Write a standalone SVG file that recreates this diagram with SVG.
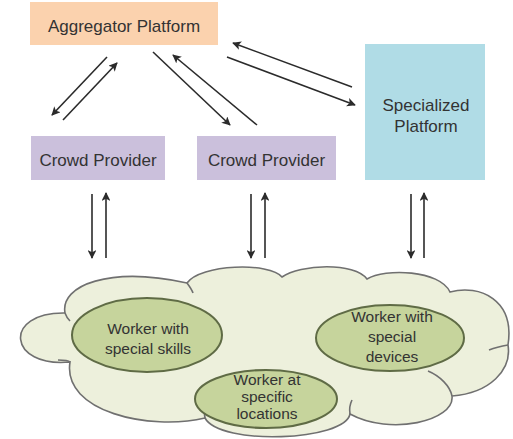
<svg xmlns="http://www.w3.org/2000/svg" width="513" height="439" viewBox="0 0 513 439">
<style>
.t{font-family:"Liberation Sans",Arial,sans-serif;fill:#333333;text-anchor:middle}
.b{font-size:17px}
.w{font-size:15.5px}
.c{stroke:#2b2b2b;stroke-width:1.6;fill:none;marker-end:url(#ah)}
.ell{fill:#c6d49c;stroke:#5f6b45;stroke-width:2}
.notch{fill:none;stroke:#707070;stroke-width:1.6}
</style>
<defs>
<marker id="ah" viewBox="0 0 10 10" refX="9" refY="5" markerWidth="5.5" markerHeight="5.5" orient="auto" markerUnits="strokeWidth">
<path d="M0,0 L10,5 L0,10 L2.5,5 Z" fill="#2b2b2b"/>
</marker>
</defs>
<rect width="513" height="439" fill="#ffffff"/>
<g id="cloud">
<path d="M65,313 C60,285 110,266 187,283 C200,264 270,262 282,277 C300,264 355,262 367,279 C385,268 440,270 450,292 C480,284 515,300 508,345 C512,370 490,393 452,396 C455,421 390,436 350,414 C345,441 220,446 205,418 C150,431 62,412 70,362 C8,368 2,312 65,313 Z" fill="#edf0dc" stroke="#707070" stroke-width="1.6"/>
<path class="notch" d="M65,313 C66,316 68,319 70,321"/>
<path class="notch" d="M70,362 C68,360 62,360 58,360"/>
<path class="notch" d="M508,345 C502,346 494,348 489,350"/>
<path class="notch" d="M452,396 C450,386 440,376 428,371"/>
<path class="notch" d="M350,414 C349,408 350,404 352,400"/>
<path class="notch" d="M205,418 C204,413 204,410 206,406"/>
<path class="notch" d="M187,283 C190,287 192,290 193,293"/>
</g>
<g id="aggregator">
<rect x="30" y="2" width="188" height="43" fill="#fbd2ae"/>
<text class="t b" x="124" y="31.5">Aggregator Platform</text>
</g>
<g id="specialized">
<rect x="365" y="44" width="120" height="136" fill="#b0dce6"/>
<text class="t b" x="426" y="111">Specialized</text>
<text class="t b" x="426" y="132">Platform</text>
</g>
<g id="crowd1">
<rect x="31" y="136" width="134" height="44" fill="#cbc0dc"/>
<text class="t b" x="98" y="166">Crowd Provider</text>
</g>
<g id="crowd2">
<rect x="197" y="136" width="139" height="44" fill="#cbc0dc"/>
<text class="t b" x="266.5" y="166">Crowd Provider</text>
</g>
<g id="w1">
<ellipse class="ell" cx="147" cy="335" rx="75" ry="37"/>
<text class="t w" x="148" y="334">Worker with</text>
<text class="t w" x="148" y="354">special skills</text>
</g>
<g id="w3">
<ellipse class="ell" cx="390" cy="338" rx="74" ry="33"/>
<text class="t w" x="392" y="322">Worker with</text>
<text class="t w" x="392" y="342">special</text>
<text class="t w" x="392" y="362">devices</text>
</g>
<g id="w2">
<ellipse class="ell" cx="266" cy="399" rx="71" ry="29"/>
<text class="t w" x="267" y="385">Worker at</text>
<text class="t w" x="267" y="402">specific</text>
<text class="t w" x="267" y="419">locations</text>
</g>
<g id="connectors">
<line class="c" x1="107" y1="57" x2="52" y2="115"/>
<line class="c" x1="63" y1="120" x2="117" y2="63"/>
<line class="c" x1="153" y1="52" x2="230" y2="125"/>
<line class="c" x1="257" y1="125" x2="173" y2="55"/>
<line class="c" x1="352" y1="87" x2="233" y2="43"/>
<line class="c" x1="227" y1="57" x2="355" y2="105"/>
<line class="c" x1="92" y1="194" x2="92" y2="258"/>
<line class="c" x1="106" y1="258" x2="106" y2="193"/>
<line class="c" x1="251" y1="194" x2="251" y2="258"/>
<line class="c" x1="265" y1="258" x2="265" y2="193"/>
<line class="c" x1="411" y1="194" x2="411" y2="258"/>
<line class="c" x1="424" y1="258" x2="424" y2="193"/>
</g>
</svg>
